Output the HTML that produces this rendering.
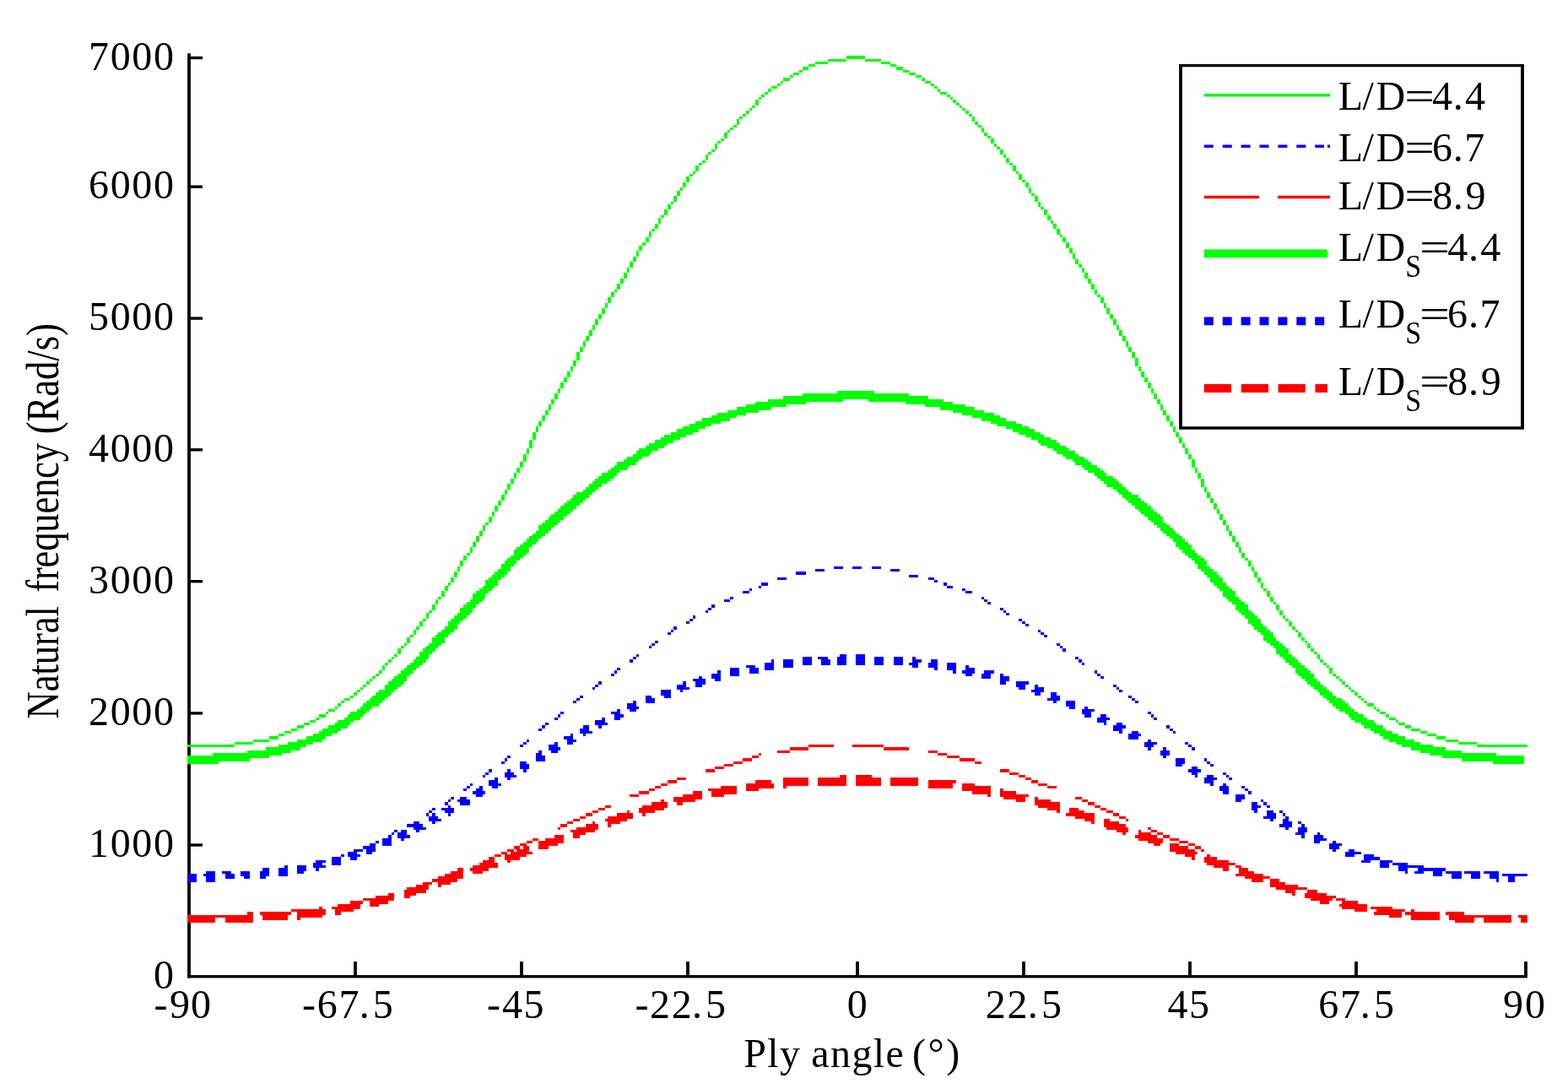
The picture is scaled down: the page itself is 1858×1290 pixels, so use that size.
<!DOCTYPE html>
<html lang="en"><head><meta charset="utf-8"><title>Natural frequency vs ply angle</title>
<style>html,body{margin:0;padding:0;background:#fff}body{width:1858px;height:1290px;overflow:hidden}svg{display:block}text{font-family:'Liberation Serif',serif;fill:#000;white-space:pre}</style></head><body>
<svg width="1858" height="1290" viewBox="0 0 1858 1290">
<rect width="1858" height="1290" fill="#fff"/>
<g fill="#000">
<rect x="222.10" y="63.2" width="3.80" height="1095.25"/>
<rect x="222.10" y="1155.05" width="1587.80" height="3.40"/>
<rect x="419.10" y="1139" width="3.80" height="17"/>
<rect x="616.10" y="1139" width="3.80" height="17"/>
<rect x="813.10" y="1139" width="3.80" height="17"/>
<rect x="1014.10" y="1139" width="3.80" height="17"/>
<rect x="1211.10" y="1139" width="3.80" height="17"/>
<rect x="1408.10" y="1139" width="3.80" height="17"/>
<rect x="1605.10" y="1139" width="3.80" height="17"/>
<rect x="1806.10" y="1139" width="3.80" height="17"/>
<rect x="225" y="66.80" width="15" height="3.40"/>
<rect x="225" y="219.50" width="15" height="3.40"/>
<rect x="225" y="375.40" width="15" height="3.40"/>
<rect x="225" y="531.10" width="15" height="3.40"/>
<rect x="225" y="687.00" width="15" height="3.40"/>
<rect x="225" y="843.20" width="15" height="3.40"/>
<rect x="225" y="999.30" width="15" height="3.40"/>
</g>
<g shape-rendering="crispEdges" stroke="none">
<path fill="#00ff00" d="M222 882h56v3h-56zM278 879h22v3h-22zM300 876h19v3h-19zM319 872h11v4h-11zM330 869h7v3h-7zM337 866h8v3h-8zM345 863h7v3h-7zM352 859h8v4h-8zM360 856h7v3h-7zM367 853h7v3h-7zM374 850h4v3h-4zM378 846h8v4h-8zM386 843h3v3h-3zM389 840h8v3h-8zM397 837h3v3h-3zM400 833h4v4h-4zM404 830h4v3h-4zM408 827h7v3h-7zM415 824h4v3h-4zM419 820h4v4h-4zM423 817h4v3h-4zM427 814h3v3h-3zM430 811h4v3h-4zM434 807h4v4h-4zM438 804h3v3h-3zM441 801h4v3h-4zM445 798h4v3h-4zM449 794h4v4h-4zM453 788h3v6h-3zM456 785h4v3h-4zM460 781h4v4h-4zM464 778h3v3h-3zM467 775h4v3h-4zM471 768h4v7h-4zM475 765h4v3h-4zM479 762h3v3h-3zM482 755h4v7h-4zM486 752h4v3h-4zM490 746h3v6h-3zM493 742h4v4h-4zM497 736h4v6h-4zM501 733h4v3h-4zM505 726h3v7h-3zM508 723h4v3h-4zM512 716h4v7h-4zM516 710h3v6h-3zM519 707h4v3h-4zM523 700h4v7h-4zM527 694h4v6h-4zM531 690h3v4h-3zM534 684h4v6h-4zM538 677h4v7h-4zM542 671h3v6h-3zM545 664h4v7h-4zM549 658h4v6h-4zM553 655h4v3h-4zM557 648h3v7h-3zM560 642h4v6h-4zM564 635h4v7h-4zM568 629h4v6h-4zM572 622h3v7h-3zM575 619h4v3h-4zM579 612h4v7h-4zM583 606h3v6h-3zM586 599h4v7h-4zM590 593h4v6h-4zM594 586h4v7h-4zM598 580h3v6h-3zM601 573h4v7h-4zM605 567h4v6h-4zM609 560h3v7h-3zM612 554h4v6h-4zM616 547h4v7h-4zM620 538h4v9h-4zM624 531h3v7h-3zM627 521h4v10h-4zM631 512h4v9h-4zM635 505h3v7h-3zM638 499h4v6h-4zM642 492h4v7h-4zM646 486h4v6h-4zM650 479h3v7h-3zM653 473h4v6h-4zM657 466h4v7h-4zM661 460h3v6h-3zM664 453h4v7h-4zM668 447h4v6h-4zM672 440h4v7h-4zM676 434h3v6h-3zM679 427h4v7h-4zM683 417h4v10h-4zM687 411h4v6h-4zM691 404h3v7h-3zM694 398h4v6h-4zM698 391h4v7h-4zM702 385h3v6h-3zM705 378h4v7h-4zM709 372h4v6h-4zM713 365h4v7h-4zM717 359h3v6h-3zM720 352h4v7h-4zM724 346h4v6h-4zM728 343h3v3h-3zM731 336h4v7h-4zM735 330h4v6h-4zM739 323h4v7h-4zM743 317h3v6h-3zM746 310h4v7h-4zM750 304h4v6h-4zM754 297h3v7h-3zM757 291h4v6h-4zM761 287h4v4h-4zM765 281h4v6h-4zM769 274h3v7h-3zM772 271h4v3h-4zM776 265h4v6h-4zM780 258h3v7h-3zM783 255h4v3h-4zM787 248h4v7h-4zM791 242h4v6h-4zM795 239h3v3h-3zM798 232h4v7h-4zM802 226h4v6h-4zM806 222h3v4h-3zM809 216h4v6h-4zM813 209h4v7h-4zM817 206h4v3h-4zM821 203h3v3h-3zM824 196h4v7h-4zM828 193h4v3h-4zM832 190h4v3h-4zM836 183h3v7h-3zM839 180h4v3h-4zM843 177h4v3h-4zM847 170h3v7h-3zM850 167h4v3h-4zM854 164h4v3h-4zM858 157h4v7h-4zM862 154h3v3h-3zM865 151h4v3h-4zM869 148h4v3h-4zM873 141h3v7h-3zM876 138h4v3h-4zM880 135h4v3h-4zM884 131h4v4h-4zM888 128h3v3h-3zM891 125h4v3h-4zM895 118h4v7h-4zM899 115h3v3h-3zM902 112h4v3h-4zM906 109h4v3h-4zM910 105h4v4h-4zM914 102h7v3h-7zM921 99h4v3h-4zM925 96h3v3h-3zM928 92h8v4h-8zM936 89h4v3h-4zM940 86h7v3h-7zM947 83h4v3h-4zM951 79h7v4h-7zM958 76h8v3h-8zM966 73h15v3h-15zM981 70h22v3h-22zM1003 66h22v4h-22zM1025 70h19v3h-19zM1044 73h11v3h-11zM1055 76h7v3h-7zM1062 79h8v4h-8zM1070 83h7v3h-7zM1077 86h8v3h-8zM1085 89h7v3h-7zM1092 92h4v4h-4zM1096 96h7v3h-7zM1103 99h4v3h-4zM1107 102h4v3h-4zM1111 105h3v4h-3zM1114 109h8v3h-8zM1122 112h4v3h-4zM1126 115h3v3h-3zM1129 118h4v4h-4zM1133 122h4v3h-4zM1137 125h3v3h-3zM1140 128h4v3h-4zM1144 131h4v4h-4zM1148 135h4v3h-4zM1152 138h3v6h-3zM1155 144h4v4h-4zM1159 148h4v3h-4zM1163 151h3v6h-3zM1166 157h4v4h-4zM1170 161h4v3h-4zM1174 164h4v6h-4zM1178 170h3v4h-3zM1181 174h4v3h-4zM1185 177h4v6h-4zM1189 183h3v4h-3zM1192 187h4v6h-4zM1196 193h4v3h-4zM1200 196h4v7h-4zM1204 203h3v3h-3zM1207 206h4v7h-4zM1211 213h4v3h-4zM1215 216h4v6h-4zM1219 222h3v7h-3zM1222 229h4v3h-4zM1226 232h4v7h-4zM1230 239h3v6h-3zM1233 245h4v3h-4zM1237 248h4v7h-4zM1241 255h4v6h-4zM1245 261h3v4h-3zM1248 265h4v6h-4zM1252 271h4v7h-4zM1256 278h3v3h-3zM1259 281h4v6h-4zM1263 287h4v7h-4zM1267 294h4v6h-4zM1271 300h3v7h-3zM1274 307h4v6h-4zM1278 313h4v4h-4zM1282 317h3v6h-3zM1285 323h4v7h-4zM1289 330h4v6h-4zM1293 336h4v7h-4zM1297 343h3v6h-3zM1300 349h4v3h-4zM1304 352h4v7h-4zM1308 359h3v6h-3zM1311 365h4v7h-4zM1315 372h4v6h-4zM1319 378h4v7h-4zM1323 385h3v6h-3zM1326 391h4v7h-4zM1330 398h4v6h-4zM1334 404h3v7h-3zM1337 411h4v6h-4zM1341 417h4v7h-4zM1345 424h4v10h-4zM1349 434h3v6h-3zM1352 440h4v7h-4zM1356 447h4v6h-4zM1360 453h4v7h-4zM1364 460h3v6h-3zM1367 466h4v7h-4zM1371 473h4v6h-4zM1375 479h3v7h-3zM1378 486h4v6h-4zM1382 492h4v7h-4zM1386 499h4v6h-4zM1390 505h3v7h-3zM1393 512h4v6h-4zM1397 518h4v7h-4zM1401 525h3v6h-3zM1404 531h4v7h-4zM1408 538h4v6h-4zM1412 544h4v10h-4zM1416 554h3v6h-3zM1419 560h4v7h-4zM1423 567h4v10h-4zM1427 577h3v6h-3zM1430 583h4v7h-4zM1434 590h4v6h-4zM1438 596h4v7h-4zM1442 603h3v6h-3zM1445 609h4v7h-4zM1449 616h4v6h-4zM1453 622h3v7h-3zM1456 629h4v6h-4zM1460 635h4v7h-4zM1464 642h4v6h-4zM1468 648h3v7h-3zM1471 655h4v6h-4zM1475 661h4v3h-4zM1479 664h4v7h-4zM1483 671h3v6h-3zM1486 677h4v7h-4zM1490 684h4v6h-4zM1494 690h3v7h-3zM1497 697h4v3h-4zM1501 700h4v7h-4zM1505 707h4v6h-4zM1509 713h3v3h-3zM1512 716h4v7h-4zM1516 723h4v6h-4zM1520 729h3v4h-3zM1523 733h4v3h-4zM1527 736h4v6h-4zM1531 742h4v4h-4zM1535 746h3v3h-3zM1538 749h4v6h-4zM1542 755h4v4h-4zM1546 759h3v3h-3zM1549 762h4v6h-4zM1553 768h4v4h-4zM1557 772h4v3h-4zM1561 775h3v6h-3zM1564 781h4v4h-4zM1568 785h4v3h-4zM1572 788h3v3h-3zM1575 791h4v7h-4zM1579 798h4v3h-4zM1583 801h4v3h-4zM1587 804h3v3h-3zM1590 807h4v4h-4zM1594 811h4v3h-4zM1598 814h3v3h-3zM1601 817h4v3h-4zM1605 820h4v4h-4zM1609 824h4v3h-4zM1613 827h3v3h-3zM1616 830h4v3h-4zM1620 833h8v4h-8zM1628 837h3v3h-3zM1631 840h4v3h-4zM1635 843h7v3h-7zM1642 846h4v4h-4zM1646 850h8v3h-8zM1654 853h3v3h-3zM1657 856h8v3h-8zM1665 859h7v4h-7zM1672 863h11v3h-11zM1683 866h8v3h-8zM1691 869h11v3h-11zM1702 872h11v4h-11zM1713 876h15v3h-15zM1728 879h22v3h-22zM1750 882h60v3h-60z"/>
<path fill="#0000ff" d="M222 1035h7v3h-7zM241 1035h11v3h-11zM263 1032h11v3h-11zM285 1032h11v3h-11zM308 1032h11v3h-11zM330 1028h11v4h-11zM352 1025h11v3h-11zM374 1022h8v3h-8zM382 1019h4v3h-4zM397 1015h7v4h-7zM404 1012h4v3h-4zM419 1009h4v3h-4zM423 1006h7v3h-7zM438 999h7v3h-7zM445 996h4v3h-4zM460 989h4v4h-4zM464 986h3v3h-3zM467 983h4v3h-4zM482 976h8v4h-8zM490 973h3v3h-3zM505 963h3v4h-3zM508 960h4v3h-4zM512 957h4v3h-4zM527 950h4v4h-4zM531 947h3v3h-3zM534 944h4v3h-4zM549 934h4v3h-4zM553 931h4v3h-4zM557 928h3v3h-3zM572 918h3v3h-3zM575 915h4v3h-4zM579 911h4v4h-4zM594 902h4v3h-4zM598 898h3v4h-3zM601 895h4v3h-4zM616 882h4v3h-4zM620 879h4v3h-4zM624 876h3v3h-3zM638 863h4v3h-4zM642 859h4v4h-4zM646 856h4v3h-4zM657 850h4v3h-4zM661 846h3v4h-3zM664 843h4v3h-4zM679 830h4v3h-4zM683 827h4v3h-4zM687 824h4v3h-4zM702 814h3v3h-3zM705 811h4v3h-4zM709 807h4v4h-4zM724 798h4v3h-4zM728 794h3v4h-3zM731 791h4v3h-4zM746 781h4v4h-4zM750 778h4v3h-4zM754 775h3v3h-3zM769 765h3v3h-3zM772 762h4v3h-4zM776 759h4v3h-4zM791 749h4v3h-4zM795 746h3v3h-3zM798 742h4v4h-4zM813 736h4v3h-4zM817 733h4v3h-4zM821 729h3v4h-3zM836 723h3v3h-3zM839 720h4v3h-4zM843 716h4v4h-4zM858 710h7v3h-7zM865 707h4v3h-4zM880 700h8v3h-8zM888 697h3v3h-3zM899 694h3v3h-3zM902 690h8v4h-8zM921 684h11v3h-11zM943 677h12v4h-12zM966 674h11v3h-11zM988 671h11v3h-11zM1010 671h11v3h-11zM1033 671h11v3h-11zM1055 674h11v3h-11zM1077 681h11v3h-11zM1100 684h7v3h-7zM1107 687h4v3h-4zM1118 690h4v4h-4zM1122 694h7v3h-7zM1140 697h4v3h-4zM1144 700h8v3h-8zM1163 707h3v3h-3zM1166 710h4v3h-4zM1170 713h4v3h-4zM1185 720h4v3h-4zM1189 723h3v3h-3zM1192 726h4v3h-4zM1207 733h4v3h-4zM1211 736h4v3h-4zM1215 739h4v3h-4zM1230 746h3v3h-3zM1233 749h4v3h-4zM1237 752h4v3h-4zM1252 762h4v3h-4zM1256 765h3v3h-3zM1259 768h4v4h-4zM1274 778h4v3h-4zM1278 781h4v4h-4zM1282 785h3v3h-3zM1297 794h3v4h-3zM1300 798h4v3h-4zM1304 801h4v3h-4zM1319 811h4v3h-4zM1323 814h3v3h-3zM1326 817h4v3h-4zM1337 824h4v3h-4zM1341 827h4v3h-4zM1345 830h4v3h-4zM1360 843h4v3h-4zM1364 846h3v4h-3zM1367 850h4v3h-4zM1382 859h4v4h-4zM1386 863h4v3h-4zM1390 866h3v3h-3zM1404 879h4v3h-4zM1408 882h4v3h-4zM1412 885h4v4h-4zM1427 898h3v4h-3zM1430 902h4v3h-4zM1434 905h4v3h-4zM1449 915h4v3h-4zM1453 918h3v3h-3zM1456 921h4v3h-4zM1471 931h4v3h-4zM1475 934h4v3h-4zM1479 937h4v4h-4zM1494 947h3v3h-3zM1497 950h4v4h-4zM1501 954h4v3h-4zM1516 960h4v3h-4zM1520 963h3v4h-3zM1523 967h4v3h-4zM1538 973h4v3h-4zM1542 976h4v4h-4zM1546 980h3v3h-3zM1561 986h3v3h-3zM1564 989h4v4h-4zM1568 993h4v3h-4zM1579 996h4v3h-4zM1583 999h7v3h-7zM1601 1006h4v3h-4zM1605 1009h8v3h-8zM1624 1012h4v3h-4zM1628 1015h7v4h-7zM1646 1019h4v3h-4zM1650 1022h7v3h-7zM1668 1025h12v3h-12zM1691 1028h11v4h-11zM1713 1032h11v3h-11zM1735 1032h12v3h-12zM1758 1032h11v3h-11zM1780 1035h11v3h-11zM1799 1035h11v3h-11z"/>
<path fill="#ff0000" d="M222 1084h63v3h-63zM308 1080h37v4h-37zM345 1077h29v3h-29zM397 1074h7v3h-7zM404 1071h11v3h-11zM415 1067h15v4h-15zM430 1064h19v3h-19zM449 1061h11v3h-11zM460 1058h4v3h-4zM482 1051h11v3h-11zM493 1048h12v3h-12zM505 1045h7v3h-7zM512 1041h7v4h-7zM519 1038h8v3h-8zM527 1035h7v3h-7zM534 1032h8v3h-8zM542 1028h7v4h-7zM572 1019h7v3h-7zM579 1015h7v4h-7zM586 1012h8v3h-8zM594 1009h7v3h-7zM601 1006h8v3h-8zM609 1002h7v4h-7zM616 999h8v3h-8zM624 996h7v3h-7zM631 993h7v3h-7zM661 980h3v3h-3zM664 976h8v4h-8zM672 973h7v3h-7zM679 970h8v3h-8zM687 967h7v3h-7zM694 963h8v4h-8zM702 960h7v3h-7zM709 957h8v3h-8zM717 954h7v3h-7zM746 941h11v3h-11zM757 937h12v4h-12zM769 934h7v3h-7zM776 931h7v3h-7zM783 928h8v3h-8zM791 924h11v4h-11zM802 921h11v3h-11zM836 911h11v4h-11zM847 908h11v3h-11zM858 905h11v3h-11zM869 902h11v3h-11zM880 898h11v4h-11zM891 895h8v3h-8zM899 892h3v3h-3zM921 889h15v3h-15zM936 885h22v4h-22zM958 882h30v3h-30zM1010 882h37v3h-37zM1047 885h30v4h-30zM1100 889h11v3h-11zM1111 892h11v3h-11zM1122 895h15v3h-15zM1137 898h18v4h-18zM1155 902h8v3h-8zM1185 911h11v4h-11zM1196 915h11v3h-11zM1207 918h8v3h-8zM1215 921h7v3h-7zM1222 924h8v4h-8zM1230 928h11v3h-11zM1241 931h11v3h-11zM1274 944h8v3h-8zM1282 947h7v3h-7zM1289 950h8v4h-8zM1297 954h7v3h-7zM1304 957h7v3h-7zM1311 960h8v3h-8zM1319 963h7v4h-7zM1326 967h8v3h-8zM1334 970h3v3h-3zM1360 980h4v3h-4zM1364 983h7v3h-7zM1371 986h7v3h-7zM1378 989h8v4h-8zM1386 993h11v3h-11zM1397 996h11v3h-11zM1408 999h8v3h-8zM1416 1002h7v4h-7zM1423 1006h4v3h-4zM1449 1019h7v3h-7zM1456 1022h8v3h-8zM1464 1025h7v3h-7zM1471 1028h8v4h-8zM1479 1032h7v3h-7zM1486 1035h8v3h-8zM1494 1038h11v3h-11zM1505 1041h11v4h-11zM1535 1048h3v3h-3zM1538 1051h11v3h-11zM1549 1054h12v4h-12zM1561 1058h11v3h-11zM1572 1061h11v3h-11zM1583 1064h11v3h-11zM1594 1067h7v4h-7zM1624 1074h18v3h-18zM1642 1077h23v3h-23zM1665 1080h26v4h-26zM1713 1080h15v4h-15zM1728 1084h48v3h-48zM1799 1084h11v3h-11z"/>
<path fill="#00ff00" d="M222 902h37v3h-37zM222 898h74v4h-74zM222 895h97v3h-97zM252 892h82v3h-82zM293 889h52v3h-52zM315 885h41v4h-41zM330 882h33v3h-33zM341 879h30v3h-30zM352 876h30v3h-30zM363 872h23v4h-23zM371 869h22v3h-22zM378 866h22v3h-22zM382 863h22v3h-22zM389 859h23v4h-23zM397 856h18v3h-18zM400 853h19v3h-19zM408 850h19v3h-19zM412 846h18v4h-18zM415 843h19v3h-19zM423 840h15v3h-15zM427 837h14v3h-14zM430 833h19v4h-19zM434 830h19v3h-19zM438 827h18v3h-18zM441 824h19v3h-19zM445 820h19v4h-19zM449 817h18v3h-18zM456 814h15v3h-15zM456 811h19v3h-19zM460 807h19v4h-19zM464 804h18v3h-18zM467 801h15v3h-15zM471 798h15v3h-15zM475 794h15v4h-15zM479 791h14v3h-14zM482 788h15v3h-15zM486 785h15v3h-15zM490 781h15v4h-15zM493 778h15v3h-15zM497 775h11v3h-11zM497 772h15v3h-15zM501 768h15v4h-15zM505 765h14v3h-14zM508 762h15v3h-15zM512 755h15v7h-15zM516 752h15v3h-15zM519 749h15v3h-15zM523 746h15v3h-15zM527 742h15v4h-15zM531 739h11v3h-11zM531 736h14v3h-14zM534 733h15v3h-15zM538 729h15v4h-15zM542 726h15v3h-15zM545 720h15v6h-15zM549 716h15v4h-15zM553 713h15v3h-15zM557 710h15v3h-15zM560 703h15v7h-15zM564 700h15v3h-15zM568 697h15v3h-15zM572 694h14v3h-14zM575 687h15v7h-15zM579 684h15v3h-15zM583 681h15v3h-15zM586 677h15v4h-15zM590 674h15v3h-15zM594 671h11v3h-11zM594 668h15v3h-15zM598 664h14v4h-14zM601 661h15v3h-15zM605 658h15v3h-15zM609 655h15v3h-15zM609 651h18v4h-18zM612 648h15v3h-15zM616 645h15v3h-15zM620 642h15v3h-15zM624 638h14v4h-14zM627 635h15v3h-15zM631 632h15v3h-15zM635 629h15v3h-15zM638 625h15v4h-15zM638 622h19v3h-19zM642 619h19v3h-19zM646 616h18v3h-18zM650 612h18v4h-18zM653 609h19v3h-19zM657 606h19v3h-19zM661 603h18v3h-18zM664 599h19v4h-19zM668 596h19v3h-19zM672 593h19v3h-19zM676 590h18v3h-18zM679 586h19v4h-19zM683 583h19v3h-19zM691 580h14v3h-14zM694 577h15v3h-15zM698 573h15v4h-15zM702 570h18v3h-18zM705 567h19v3h-19zM709 564h19v3h-19zM713 560h18v4h-18zM720 557h15v3h-15zM724 554h19v3h-19zM728 551h18v3h-18zM731 547h23v4h-23zM739 544h18v3h-18zM743 541h18v3h-18zM750 538h19v3h-19zM754 534h18v4h-18zM757 531h23v3h-23zM765 528h22v3h-22zM769 525h22v3h-22zM776 521h22v4h-22zM783 518h23v3h-23zM787 515h26v3h-26zM795 512h26v3h-26zM802 508h26v4h-26zM809 505h27v3h-27zM817 502h26v3h-26zM824 499h30v3h-30zM832 495h33v4h-33zM843 492h30v3h-30zM850 489h34v3h-34zM862 486h37v3h-37zM873 482h41v4h-41zM884 479h48v3h-48zM895 476h60v3h-60zM910 473h89v3h-89zM928 469h172v4h-172zM951 466h126v3h-126zM992 463h44v3h-44zM1029 473h89v3h-89zM1073 476h56v3h-56zM1096 479h48v3h-48zM1114 482h41v4h-41zM1129 486h37v3h-37zM1140 489h38v3h-38zM1152 492h33v3h-33zM1163 495h29v4h-29zM1174 499h30v3h-30zM1181 502h30v3h-30zM1192 505h27v3h-27zM1200 508h26v4h-26zM1207 512h26v3h-26zM1215 515h22v3h-22zM1222 518h23v3h-23zM1230 521h22v4h-22zM1233 525h23v3h-23zM1241 528h22v3h-22zM1248 531h19v3h-19zM1252 534h22v4h-22zM1259 538h19v3h-19zM1263 541h22v3h-22zM1271 544h18v3h-18zM1274 547h19v4h-19zM1282 551h18v3h-18zM1285 554h19v3h-19zM1289 557h19v3h-19zM1297 560h14v4h-14zM1300 564h19v3h-19zM1304 567h19v3h-19zM1308 570h18v3h-18zM1311 573h19v4h-19zM1319 577h15v3h-15zM1323 580h14v3h-14zM1326 583h15v3h-15zM1330 586h19v4h-19zM1334 590h18v3h-18zM1337 593h19v3h-19zM1341 596h19v3h-19zM1345 599h19v4h-19zM1349 603h18v3h-18zM1352 606h19v3h-19zM1356 609h19v3h-19zM1360 612h18v4h-18zM1364 616h14v3h-14zM1367 619h15v3h-15zM1371 622h15v3h-15zM1375 625h15v4h-15zM1378 629h15v3h-15zM1382 632h15v3h-15zM1386 635h15v3h-15zM1390 638h14v4h-14zM1393 642h15v3h-15zM1393 645h19v3h-19zM1397 648h15v3h-15zM1401 651h15v4h-15zM1404 655h15v3h-15zM1408 658h15v3h-15zM1412 661h15v3h-15zM1416 664h14v4h-14zM1419 668h11v3h-11zM1419 671h15v3h-15zM1423 674h15v3h-15zM1427 677h15v4h-15zM1430 681h15v3h-15zM1434 684h15v6h-15zM1438 690h15v4h-15zM1442 694h14v3h-14zM1445 697h15v3h-15zM1449 700h15v7h-15zM1453 707h15v3h-15zM1456 710h15v3h-15zM1460 713h15v3h-15zM1464 716h15v7h-15zM1468 723h15v3h-15zM1471 726h15v3h-15zM1475 729h15v4h-15zM1479 733h15v6h-15zM1483 739h14v3h-14zM1486 742h15v4h-15zM1490 746h15v3h-15zM1494 749h15v3h-15zM1497 752h12v3h-12zM1497 755h15v4h-15zM1501 759h15v3h-15zM1505 762h15v3h-15zM1509 765h14v3h-14zM1512 768h15v7h-15zM1516 775h15v3h-15zM1520 778h15v3h-15zM1523 781h15v4h-15zM1527 785h15v3h-15zM1531 788h15v3h-15zM1535 791h14v3h-14zM1535 794h18v4h-18zM1538 798h19v3h-19zM1542 801h15v3h-15zM1546 804h15v3h-15zM1549 807h15v4h-15zM1553 811h15v3h-15zM1557 814h15v3h-15zM1561 817h14v3h-14zM1564 820h15v4h-15zM1568 824h15v3h-15zM1572 827h18v3h-18zM1575 830h19v3h-19zM1579 833h19v4h-19zM1583 837h18v3h-18zM1587 840h18v3h-18zM1594 843h15v3h-15zM1598 846h18v4h-18zM1601 850h19v3h-19zM1605 853h23v3h-23zM1613 856h18v3h-18zM1616 859h23v4h-23zM1624 863h18v3h-18zM1628 866h22v3h-22zM1635 869h22v3h-22zM1639 872h26v4h-26zM1646 876h30v3h-30zM1654 879h29v3h-29zM1661 882h37v3h-37zM1672 885h41v4h-41zM1683 889h49v3h-49zM1694 892h79v3h-79zM1709 895h97v3h-97zM1732 898h74v4h-74zM1769 902h37v3h-37z"/>
<path fill="#0000ff" d="M222 1035h11v10h-11zM244 1032h11v13h-11zM267 1032h7v3h-7zM267 1035h11v6h-11zM285 1032h11v6h-11zM289 1038h7v3h-7zM308 1038h7v3h-7zM308 1032h11v6h-11zM311 1028h8v4h-8zM330 1028h11v10h-11zM337 1025h4v3h-4zM352 1025h8v3h-8zM352 1032h8v3h-8zM352 1028h11v4h-11zM371 1022h11v3h-11zM371 1025h15v3h-15zM374 1028h4v4h-4zM374 1019h8v3h-8zM393 1015h11v10h-11zM412 1009h11v3h-11zM412 1012h15v3h-15zM415 1015h8v4h-8zM419 1006h4v3h-4zM430 1002h15v4h-15zM434 1009h7v3h-7zM434 1006h11v3h-11zM438 999h3v3h-3zM453 993h11v9h-11zM471 986h11v3h-11zM471 989h15v4h-15zM475 993h4v3h-4zM475 983h7v3h-7zM490 976h11v4h-11zM490 980h15v3h-15zM493 973h4v3h-4zM493 983h4v3h-4zM508 967h11v3h-11zM508 970h15v3h-15zM512 963h4v4h-4zM512 973h4v3h-4zM523 957h15v3h-15zM527 960h11v3h-11zM531 954h3v3h-3zM531 963h3v4h-3zM542 947h15v3h-15zM545 944h8v3h-8zM545 950h12v4h-12zM560 937h15v4h-15zM564 934h8v3h-8zM564 941h8v3h-8zM568 931h4v3h-4zM579 924h11v4h-11zM579 928h15v3h-15zM583 931h7v3h-7zM586 921h4v3h-4zM598 915h11v3h-11zM598 918h14v3h-14zM601 911h4v4h-4zM601 921h4v3h-4zM616 902h8v3h-8zM616 905h11v6h-11zM620 911h4v4h-4zM635 892h7v3h-7zM635 895h11v7h-11zM638 889h4v3h-4zM650 882h11v3h-11zM650 885h14v4h-14zM653 889h8v3h-8zM657 879h4v3h-4zM668 872h11v4h-11zM672 879h7v3h-7zM672 876h11v3h-11zM676 869h3v3h-3zM687 863h11v3h-11zM687 866h15v3h-15zM691 869h3v3h-3zM691 859h7v4h-7zM705 853h12v3h-12zM705 856h15v3h-15zM709 859h4v4h-4zM713 850h4v3h-4zM724 843h11v3h-11zM728 850h7v3h-7zM728 846h11v4h-11zM731 840h4v3h-4zM743 833h11v4h-11zM743 837h14v3h-14zM746 840h8v3h-8zM750 830h4v3h-4zM765 824h7v3h-7zM765 827h11v6h-11zM783 817h12v7h-12zM787 824h8v3h-8zM802 811h11v3h-11zM802 814h15v3h-15zM806 817h3v3h-3zM809 807h4v4h-4zM821 804h15v3h-15zM824 811h8v3h-8zM824 807h12v4h-12zM828 801h4v3h-4zM843 798h11v6h-11zM847 804h7v3h-7zM850 794h4v4h-4zM865 791h11v10h-11zM884 788h11v3h-11zM888 791h11v7h-11zM906 785h11v9h-11zM914 781h3v4h-3zM928 781h12v10h-12zM951 778h11v10h-11zM969 778h12v3h-12zM973 781h11v7h-11zM992 778h11v10h-11zM995 775h8v3h-8zM1014 775h11v13h-11zM1036 778h11v10h-11zM1059 778h11v10h-11zM1077 785h11v3h-11zM1081 778h4v3h-4zM1081 788h7v3h-7zM1081 781h11v4h-11zM1100 785h11v6h-11zM1103 781h8v4h-8zM1107 791h4v3h-4zM1122 785h11v9h-11zM1129 794h4v4h-4zM1140 794h15v4h-15zM1144 788h4v3h-4zM1144 798h8v3h-8zM1144 791h11v3h-11zM1163 798h11v6h-11zM1166 794h12v4h-12zM1185 798h4v3h-4zM1185 807h7v4h-7zM1185 801h11v6h-11zM1204 811h11v3h-11zM1204 807h15v4h-15zM1207 814h8v3h-8zM1222 817h15v3h-15zM1226 811h4v3h-4zM1226 820h7v4h-7zM1226 814h11v3h-11zM1241 827h15v3h-15zM1245 820h7v4h-7zM1245 824h11v3h-11zM1248 830h4v3h-4zM1263 830h11v7h-11zM1267 837h7v3h-7zM1282 843h11v3h-11zM1282 840h15v3h-15zM1285 837h4v3h-4zM1285 846h8v4h-8zM1300 853h11v3h-11zM1300 850h15v3h-15zM1304 846h7v4h-7zM1308 856h3v3h-3zM1319 863h11v3h-11zM1319 859h15v4h-15zM1323 856h7v3h-7zM1326 866h4v3h-4zM1337 872h12v4h-12zM1337 869h15v3h-15zM1341 866h8v3h-8zM1356 882h11v3h-11zM1356 879h15v3h-15zM1360 876h4v3h-4zM1360 885h4v4h-4zM1375 889h11v6h-11zM1378 885h4v4h-4zM1378 895h4v3h-4zM1393 905h8v3h-8zM1393 898h11v7h-11zM1408 911h15v4h-15zM1412 908h7v3h-7zM1412 915h7v3h-7zM1416 918h3v3h-3zM1427 924h11v4h-11zM1427 921h15v3h-15zM1430 918h8v3h-8zM1434 928h4v3h-4zM1445 931h11v6h-11zM1449 928h4v3h-4zM1449 937h7v4h-7zM1464 947h7v3h-7zM1464 941h11v6h-11zM1483 950h7v4h-7zM1483 957h7v3h-7zM1483 954h11v3h-11zM1486 960h4v3h-4zM1497 967h15v3h-15zM1501 960h8v3h-8zM1501 963h11v4h-11zM1505 970h4v3h-4zM1516 976h15v4h-15zM1520 970h7v3h-7zM1520 973h11v3h-11zM1523 980h4v3h-4zM1535 986h11v3h-11zM1538 980h8v3h-8zM1538 983h11v3h-11zM1542 989h4v4h-4zM1557 996h7v3h-7zM1557 989h11v7h-11zM1575 999h12v7h-12zM1579 996h4v3h-4zM1579 1006h4v3h-4zM1594 1009h11v6h-11zM1598 1006h7v3h-7zM1613 1019h11v3h-11zM1616 1012h12v7h-12zM1635 1019h11v9h-11zM1657 1022h11v10h-11zM1665 1032h3v3h-3zM1676 1032h11v3h-11zM1680 1025h7v3h-7zM1680 1028h11v4h-11zM1698 1032h11v6h-11zM1702 1028h11v4h-11zM1720 1032h12v9h-12zM1743 1032h11v9h-11zM1765 1032h11v9h-11zM1773 1041h3v4h-3zM1787 1038h8v7h-8zM1787 1035h12v3h-12z"/>
<path fill="#ff0000" d="M222 1084h33v9h-33zM267 1084h33v9h-33zM293 1080h7v4h-7zM311 1080h30v10h-30zM352 1087h4v3h-4zM352 1084h30v3h-30zM352 1077h34v7h-34zM378 1074h4v3h-4zM393 1074h34v3h-34zM397 1080h7v4h-7zM397 1077h22v3h-22zM400 1071h27v3h-27zM419 1067h8v4h-8zM438 1071h11v3h-11zM438 1067h22v4h-22zM438 1064h29v3h-29zM445 1061h22v3h-22zM460 1058h7v3h-7zM479 1061h7v3h-7zM479 1058h14v3h-14zM479 1054h26v4h-26zM482 1051h26v3h-26zM493 1048h15v3h-15zM501 1045h7v3h-7zM516 1041h26v4h-26zM519 1048h4v3h-4zM519 1045h15v3h-15zM523 1038h26v3h-26zM531 1035h18v3h-18zM542 1032h7v3h-7zM557 1028h22v4h-22zM560 1032h12v3h-12zM560 1025h30v3h-30zM568 1022h22v3h-22zM575 1019h11v3h-11zM598 1015h18v4h-18zM598 1012h26v3h-26zM601 1019h4v3h-4zM605 1009h26v3h-26zM612 1006h15v3h-15zM620 1002h7v4h-7zM638 1002h12v4h-12zM638 999h23v3h-23zM638 996h30v3h-30zM646 993h22v3h-22zM657 989h11v4h-11zM676 983h29v3h-29zM679 989h8v4h-8zM679 986h15v3h-15zM683 980h26v3h-26zM694 976h15v4h-15zM702 973h3v3h-3zM717 970h26v3h-26zM720 976h4v4h-4zM720 973h15v3h-15zM720 967h30v3h-30zM731 963h19v4h-19zM743 960h3v3h-3zM757 960h19v3h-19zM757 957h30v3h-30zM761 963h4v4h-4zM761 954h30v3h-30zM772 950h19v4h-19zM783 947h4v3h-4zM798 947h26v3h-26zM798 944h34v3h-34zM802 950h7v4h-7zM809 941h23v3h-23zM821 937h11v4h-11zM839 934h34v3h-34zM843 941h15v3h-15zM843 937h30v4h-30zM854 931h19v3h-19zM884 934h15v3h-15zM884 928h33v6h-33zM895 924h19v4h-19zM928 931h4v3h-4zM928 921h30v10h-30zM969 921h34v10h-34zM995 918h8v3h-8zM1014 918h19v3h-19zM1014 921h30v10h-30zM1055 921h33v10h-33zM1100 928h29v6h-29zM1100 924h33v4h-33zM1140 928h15v3h-15zM1140 931h34v6h-34zM1152 937h22v4h-22zM1170 941h4v3h-4zM1185 934h4v3h-4zM1185 937h19v4h-19zM1185 941h34v3h-34zM1189 944h26v3h-26zM1204 947h11v3h-11zM1226 944h4v3h-4zM1226 947h19v3h-19zM1226 950h30v4h-30zM1230 954h26v3h-26zM1241 957h15v3h-15zM1252 960h4v3h-4zM1263 963h34v4h-34zM1267 957h11v3h-11zM1267 960h18v3h-18zM1274 967h23v3h-23zM1285 970h12v3h-12zM1293 973h4v3h-4zM1308 970h7v3h-7zM1308 973h18v3h-18zM1308 976h26v4h-26zM1311 980h26v3h-26zM1323 983h14v3h-14zM1330 986h4v3h-4zM1345 989h26v4h-26zM1349 983h3v3h-3zM1349 986h15v3h-15zM1349 993h29v3h-29zM1360 996h18v3h-18zM1367 999h8v3h-8zM1386 999h11v3h-11zM1386 1002h22v4h-22zM1386 1006h30v3h-30zM1393 1009h26v3h-26zM1404 1012h12v3h-12zM1412 1015h4v4h-4zM1427 1015h15v4h-15zM1427 1019h22v3h-22zM1430 1012h4v3h-4zM1430 1022h30v3h-30zM1438 1025h18v3h-18zM1449 1028h7v4h-7zM1464 1035h33v3h-33zM1468 1028h11v4h-11zM1468 1032h18v3h-18zM1475 1038h22v3h-22zM1483 1041h14v4h-14zM1505 1045h18v3h-18zM1505 1048h30v3h-30zM1509 1041h7v4h-7zM1512 1051h26v3h-26zM1523 1054h12v4h-12zM1531 1058h4v3h-4zM1546 1058h22v3h-22zM1546 1061h33v3h-33zM1549 1054h8v4h-8zM1553 1064h26v3h-26zM1564 1067h11v4h-11zM1587 1071h33v3h-33zM1590 1064h4v3h-4zM1590 1067h19v4h-19zM1590 1074h30v3h-30zM1605 1077h15v3h-15zM1628 1080h33v4h-33zM1631 1074h19v3h-19zM1631 1077h30v3h-30zM1646 1084h15v3h-15zM1672 1077h4v3h-4zM1672 1080h34v10h-34zM1717 1080h18v4h-18zM1717 1087h30v3h-30zM1717 1084h33v3h-33zM1724 1090h23v3h-23zM1758 1084h33v9h-33zM1802 1084h8v9h-8z"/>
</g>
<text x="105.1 130.7 156.3 181.9" y="83.0" font-size="48">7000</text>
<text x="105.1 130.7 156.3 181.9" y="235.2" font-size="48">6000</text>
<text x="105.1 130.7 156.3 181.9" y="391.0" font-size="48">5000</text>
<text x="105.1 130.7 156.3 181.9" y="547.0" font-size="48">4000</text>
<text x="105.1 130.7 156.3 181.9" y="703.0" font-size="48">3000</text>
<text x="105.1 130.7 156.3 181.9" y="859.0" font-size="48">2000</text>
<text x="105.1 130.7 156.3 181.9" y="1015.0" font-size="48">1000</text>
<text x="181.9" y="1171.0" font-size="48">0</text>
<text x="182.6 200.9 226.1" y="1206.0" font-size="48">-90</text>
<text x="358.1 375.8 401.4 425.7 441.8" y="1206.0" font-size="48">-67.5</text>
<text x="577.0 594.9 620.5" y="1206.0" font-size="48">-45</text>
<text x="752.4 769.9 795.7 819.9 835.9" y="1206.0" font-size="48">-22.5</text>
<text x="1003.7" y="1206.0" font-size="48">0</text>
<text x="1167.8 1193.6 1217.7 1233.9" y="1206.0" font-size="48">22.5</text>
<text x="1383.4 1409.0" y="1206.0" font-size="48">45</text>
<text x="1562.3 1587.9 1611.8 1628.0" y="1206.0" font-size="48">67.5</text>
<text x="1781.1 1807.0" y="1206.0" font-size="48">90</text>
<text x="881.3 909.3 924.0 948.0 961.3 984.0 1009.4 1034.8 1049.6 1070.9 1080.9 1099.5 1121.3" y="1263.5" font-size="48">Ply angle (°)</text>
<text transform="translate(69 850.1) rotate(-90) scale(0.93 1.13)" x="-1.4 33.2 54.4 67.6 91.6 107.5 128.7 142.0 159.6 175.3 191.1 212.1 235.9 259.7 280.7 304.5 325.6 349.6 361.0 377.0 409.0 430.3 454.2 467.5 486.2" y="0" font-size="48">Natural frequency (Rad/s)</text>
<path fill="#000" fill-rule="evenodd" d="M1397.1 76H1805.9V508.7H1397.1zM1400.9 79.3V505.3H1802.1V79.3z"/>
<g fill="none">
<path d="M1426.8 112.7H1576" stroke="#00ff00" stroke-width="3.5"/>
<path d="M1426.8 173.3H1569M1573 173.3H1576" stroke="#0000ff" stroke-width="3.4" stroke-dasharray="11 10.9"/>
<path d="M1426.8 233.5H1576" stroke="#ff0000" stroke-width="3.3" stroke-dasharray="65.2 22"/>
<path d="M1426.8 300.3H1573" stroke="#00ff00" stroke-width="9.7"/>
<path d="M1426.8 380.3H1573" stroke="#0000ff" stroke-width="9.8" stroke-dasharray="11 10.9"/>
<path d="M1426.8 460H1573" stroke="#ff0000" stroke-width="9.8" stroke-dasharray="32.3 11.6"/>
</g>
<text y="129.8" font-size="48"><tspan x="1585.8 1614.6 1630.4">L/D</tspan><tspan x="1664.3" textLength="35.6" lengthAdjust="spacingAndGlyphs">=</tspan><tspan x="1697.1 1721.7 1736.1">4.4</tspan></text>
<text y="190.6" font-size="48"><tspan x="1585.8 1614.6 1630.4">L/D</tspan><tspan x="1664.3" textLength="35.6" lengthAdjust="spacingAndGlyphs">=</tspan><tspan x="1696.9 1721.7 1735.3">6.7</tspan></text>
<text y="247.7" font-size="48"><tspan x="1585.8 1614.6 1630.4">L/D</tspan><tspan x="1664.3" textLength="35.6" lengthAdjust="spacingAndGlyphs">=</tspan><tspan x="1697.2 1721.7 1736.5">8.9</tspan></text>
<text y="308.6" font-size="48"><tspan x="1585.8 1614.6 1630.4">L/D</tspan><tspan x="1665.2" dy="18.9" font-size="38" textLength="18.9" lengthAdjust="spacingAndGlyphs">S</tspan><tspan x="1682.1" dy="-18.9" textLength="36.1" lengthAdjust="spacingAndGlyphs">=</tspan><tspan x="1715.2 1740.0 1754.3">4.4</tspan></text>
<text y="387.8" font-size="48"><tspan x="1585.8 1614.6 1630.4">L/D</tspan><tspan x="1665.2" dy="18.9" font-size="38" textLength="18.9" lengthAdjust="spacingAndGlyphs">S</tspan><tspan x="1682.1" dy="-18.9" textLength="36.1" lengthAdjust="spacingAndGlyphs">=</tspan><tspan x="1715.0 1740.0 1753.5">6.7</tspan></text>
<text y="467.9" font-size="48"><tspan x="1585.8 1614.6 1630.4">L/D</tspan><tspan x="1665.2" dy="18.9" font-size="38" textLength="18.9" lengthAdjust="spacingAndGlyphs">S</tspan><tspan x="1682.1" dy="-18.9" textLength="36.1" lengthAdjust="spacingAndGlyphs">=</tspan><tspan x="1715.3 1740.0 1754.7">8.9</tspan></text>
</svg></body></html>
